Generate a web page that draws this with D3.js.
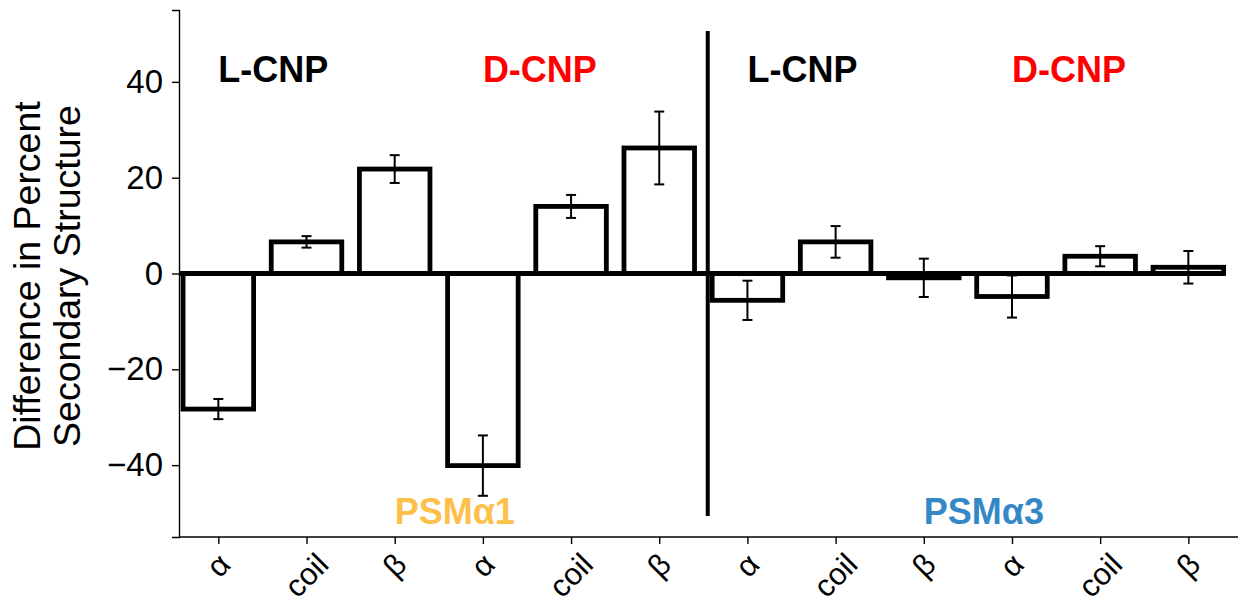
<!DOCTYPE html>
<html>
<head>
<meta charset="utf-8">
<script src="https://cdn.jsdelivr.net/npm/d3@7"></script>
<style>
  html, body { margin: 0; padding: 0; background: #ffffff; }
  svg { display: block; }
  text { font-family: "Liberation Sans", Arial, Helvetica, sans-serif; }
</style>
</head>
<body>
<svg id="chart" width="1238" height="607"></svg>
<script>
// Secondary-structure categories, one per bar (PSMα1 L/D, then PSMα3 L/D)
const categories = ["α", "coil", "β", "α", "coil", "β", "α", "coil", "β", "α", "coil", "β"];
// Difference in percent secondary structure
const values = [-28.3, 6.6, 21.8, -40.1, 14.0, 26.2, -5.6, 6.6, -0.9, -4.8, 3.6, 1.3];
// Standard deviation of each difference
const errors = [2.1, 1.2, 2.9, 6.3, 2.4, 7.6, 4.1, 3.3, 4.0, 4.4, 2.1, 3.4];
// Y-axis ticks
const yTicks = [-40, -20, 0, 20, 40];
// Nanoparticle group headers and peptide labels
const cnpLabels = ["L-CNP", "D-CNP", "L-CNP", "D-CNP"];
const cnpStart = [0, 3, 6, 9];
const peptideLabels = ["PSMα1", "PSMα3"];
const peptideStart = [2, 8];

const svg = d3.select("#chart");
const W = 1238, H = 607;

const x = d3.scaleLinear().domain([-0.446, 11.563]).range([179, 1238]);
const y = d3.scaleLinear().domain([-55, 55]).range([537, 10]);
const barW = x(0.8) - x(0);

// zero line
svg.append("line")
  .attr("x1", x(-0.446)).attr("x2", x(11.4))
  .attr("y1", y(0)).attr("y2", y(0))
  .attr("stroke", "#000").attr("stroke-width", 5);

// bars: open outlines
svg.append("g").selectAll("rect").data(values).join("rect")
  .attr("x", (d, i) => x(i) - barW / 2)
  .attr("y", d => y(Math.max(0, d)))
  .attr("width", barW)
  .attr("height", d => Math.abs(y(d) - y(0)))
  .attr("fill", "none")
  .attr("stroke", "#000")
  .attr("stroke-width", 4.8);

// error bars
const eg = svg.append("g").attr("stroke", "#000").attr("stroke-width", 2);
values.forEach((v, i) => {
  const cx = x(i), top = y(v + errors[i]), bot = y(v - errors[i]);
  eg.append("line").attr("x1", cx).attr("x2", cx).attr("y1", top).attr("y2", bot);
  eg.append("line").attr("x1", cx - 5).attr("x2", cx + 5).attr("y1", top).attr("y2", top);
  eg.append("line").attr("x1", cx - 5).attr("x2", cx + 5).attr("y1", bot).attr("y2", bot);
});

// divider between the two peptides
svg.append("line")
  .attr("x1", x(5.55)).attr("x2", x(5.55))
  .attr("y1", y(50.6)).attr("y2", y(-50.6))
  .attr("stroke", "#000").attr("stroke-width", 4);

// y axis
const yAxis = d3.axisLeft(y).tickValues(yTicks)
  .tickSize(7).tickPadding(9)
  .tickFormat(d => d3.format("d")(d).replace("-", "\u2212"));
const gy = svg.append("g").attr("transform", `translate(${x(-0.446)},0)`).call(yAxis);
gy.select(".domain").attr("stroke-width", 1.4);
gy.selectAll(".tick line").attr("stroke-width", 1.4);
gy.selectAll(".tick text").attr("font-size", 33).attr("fill", "#000")
  .attr("font-family", "'Liberation Sans', Arial, sans-serif");

// x axis
const xAxis = d3.axisBottom(x).tickValues(d3.range(categories.length))
  .tickSize(7).tickFormat("");
const gx = svg.append("g").attr("transform", `translate(0,${y(-55)})`).call(xAxis);
gx.select(".domain").attr("stroke-width", 1.4).attr("d", `M${x(-0.446)},0H${W}`);
gx.selectAll(".tick line").attr("stroke-width", 1.4);

// rotated category labels, centred under each tick
const fs = 31;
const xl = svg.append("g");
categories.forEach((c, i) => {
  const t = xl.append("text")
    .attr("font-size", fs).attr("fill", "#000")
    .attr("text-anchor", "middle").attr("dominant-baseline", "central")
    .text(c);
  const w = t.node().getComputedTextLength();
  const cy = y(-55) + 11 + (w + fs) * 0.354;
  t.attr("transform", `translate(${x(i)},${cy}) rotate(-45)`);
});

// y label (two lines)
const yl = svg.append("text")
  .attr("transform", "translate(40,276) rotate(-90)")
  .attr("text-anchor", "middle")
  .attr("font-size", 37.5).attr("fill", "#000");
yl.append("tspan").attr("x", 0).attr("dy", 0).text("Difference in Percent");
yl.append("tspan").attr("x", 0).attr("dy", 40).text("Secondary Structure");

// group headers
const cnpColor = ["#000000", "#ff0000", "#000000", "#ff0000"];
svg.append("g").selectAll("text").data(cnpLabels).join("text")
  .attr("x", (d, i) => x(cnpStart[i]))
  .attr("y", y(40))
  .attr("font-size", 36).attr("font-weight", "bold")
  .attr("fill", (d, i) => cnpColor[i])
  .text(d => d);

const pepColor = ["#fdc04a", "#3488c6"];
svg.append("g").selectAll("text").data(peptideLabels).join("text")
  .attr("x", (d, i) => x(peptideStart[i]))
  .attr("y", y(-52.2))
  .attr("font-size", 36).attr("font-weight", "bold")
  .attr("fill", (d, i) => pepColor[i])
  .text(d => d);
</script>
</body>
</html>
